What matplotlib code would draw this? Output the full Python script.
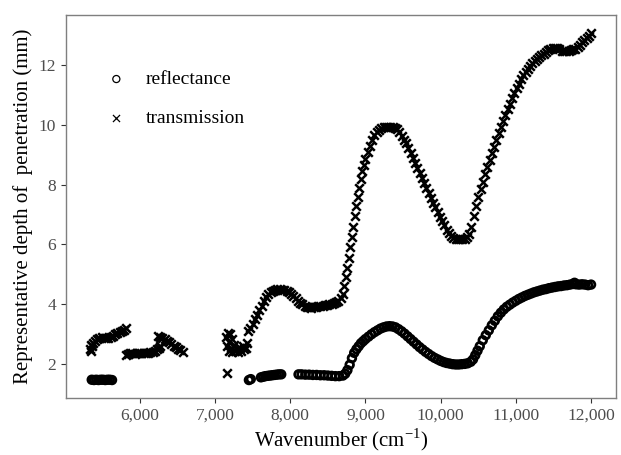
import matplotlib
matplotlib.use('Agg')
import matplotlib.pyplot as plt
from matplotlib.ticker import FuncFormatter

# reflectance (open circles)
refl_x = [5360, 5390, 5420, 5450, 5480, 5510, 5540, 5570, 5600, 5630,
          7450, 7475,
          7610, 7640, 7670, 7700, 7730, 7760, 7790, 7820, 7850, 7880,
          8110, 8150, 8200, 8250, 8300, 8350, 8400, 8450, 8500, 8550,
          8600, 8650, 8700, 8730, 8760, 8790, 8820, 8850, 8880, 8910,
          8940, 8970, 9000, 9040, 9080, 9120, 9160, 9200, 9240, 9280,
          9320, 9360, 9400, 9440, 9480, 9520, 9560, 9600, 9640, 9680,
          9720, 9760, 9800, 9840, 9880, 9920, 9960, 10000, 10040, 10080,
          10120, 10160, 10200, 10240, 10280, 10320, 10360, 10400, 10430, 10460,
          10490, 10520, 10560, 10600, 10640, 10680, 10720, 10760, 10800, 10840,
          10880, 10920, 10960, 11000, 11040, 11080, 11120, 11160, 11200, 11240,
          11280, 11320, 11360, 11400, 11440, 11480, 11520, 11560, 11600, 11640,
          11680, 11720, 11760, 11780, 11800, 11840, 11880, 11920, 11960, 12000]
refl_y = [1.48, 1.47, 1.48, 1.47, 1.48, 1.48, 1.47, 1.48, 1.48, 1.47,
          1.47, 1.50,
          1.56, 1.58, 1.60, 1.61, 1.62, 1.63, 1.64, 1.65, 1.66, 1.66,
          1.66, 1.66, 1.65, 1.65, 1.64, 1.64, 1.63, 1.63, 1.62, 1.61,
          1.60, 1.60, 1.62, 1.68, 1.80, 1.98, 2.20, 2.38, 2.50, 2.60,
          2.70, 2.77, 2.84, 2.92, 3.00, 3.07, 3.13, 3.19, 3.23, 3.26,
          3.27, 3.26, 3.23, 3.17, 3.10, 3.02, 2.93, 2.84, 2.75, 2.66,
          2.57, 2.49, 2.41, 2.34, 2.27, 2.21, 2.16, 2.11, 2.07, 2.04,
          2.02, 2.00, 1.99, 1.99, 2.00, 2.01, 2.03, 2.08, 2.16, 2.30,
          2.45, 2.60, 2.80, 2.97, 3.13, 3.30, 3.45, 3.60, 3.72, 3.83,
          3.92, 3.99, 4.06, 4.12, 4.18, 4.23, 4.28, 4.32, 4.36, 4.40,
          4.43, 4.46, 4.49, 4.51, 4.54, 4.56, 4.58, 4.60, 4.61, 4.63,
          4.64, 4.66, 4.68, 4.72, 4.67, 4.66, 4.67, 4.66, 4.64, 4.66]

# transmission (crosses)
trans_x = [5340, 5345, 5350, 5360, 5380, 5400, 5430, 5460, 5490, 5520,
           5550, 5580, 5610, 5640, 5670, 5700, 5730, 5760, 5790, 5810,
           5810, 5840, 5870, 5900, 5930, 5960, 5990, 6020, 6050, 6080,
           6110, 6140, 6170, 6200, 6230, 6250, 6270,
           6240, 6270, 6300, 6330, 6360, 6390, 6420, 6450, 6480, 6510,
           6540, 6570,
           7160,
           7150, 7160, 7170, 7180, 7190, 7200, 7210, 7220, 7230, 7250,
           7270, 7290, 7310, 7330, 7350, 7370, 7390, 7410, 7430,
           7440, 7470, 7500, 7530, 7560, 7590, 7620, 7650, 7680, 7710,
           7740, 7770, 7800, 7830, 7860, 7890, 7920, 7950, 7980, 8010,
           8040, 8070, 8100, 8130, 8160, 8190, 8220, 8250, 8280, 8310,
           8340, 8370, 8400, 8430, 8460, 8490, 8520, 8550, 8580, 8610,
           8640, 8670, 8700, 8720, 8740, 8760, 8780, 8800, 8820, 8840,
           8860, 8880, 8900, 8920, 8940, 8960, 8980, 9000, 9030, 9060,
           9090, 9120, 9150, 9180, 9210, 9240, 9270, 9300, 9330, 9360,
           9390, 9420, 9450, 9480, 9510, 9540, 9570, 9600, 9630, 9660,
           9690, 9720, 9750, 9780, 9810, 9840, 9870, 9900, 9930, 9960,
           9990, 10020, 10050, 10080, 10110, 10140, 10170, 10200, 10230, 10260,
           10290, 10320, 10350, 10380, 10410, 10440, 10470, 10500, 10530, 10560,
           10590, 10620, 10650, 10680, 10710, 10740, 10770, 10800, 10830, 10860,
           10890, 10920, 10950, 10980, 11010, 11040, 11070, 11100, 11130, 11160,
           11190, 11220, 11250, 11280, 11310, 11340, 11370, 11400, 11430, 11460,
           11490, 11520, 11550, 11580, 11610, 11640, 11670, 11700, 11730, 11760,
           11790, 11820, 11850, 11880, 11910, 11940, 11970, 12000]
trans_y = [2.50, 2.45, 2.65, 2.60, 2.70, 2.78, 2.85, 2.88, 2.90, 2.88,
           2.87, 2.88, 2.90, 2.95, 3.00, 3.05, 3.08, 3.10, 3.15, 3.20,
           2.30, 2.35, 2.38, 2.36, 2.35, 2.37, 2.38, 2.37, 2.36, 2.37,
           2.38, 2.40, 2.42, 2.45, 2.50, 2.55, 2.60,
           2.95, 2.92, 2.88, 2.83, 2.78, 2.73, 2.68, 2.62, 2.57, 2.52,
           2.47, 2.42,
           1.70,
           2.90, 2.60, 3.05, 2.45, 2.75, 3.00, 2.55, 2.85, 2.40, 2.65,
           2.45, 2.50, 2.40, 2.55, 2.45, 2.60, 2.50, 2.55, 2.70,
           3.10, 3.20, 3.35, 3.50, 3.65, 3.80, 3.95, 4.10, 4.25, 4.35,
           4.42, 4.45, 4.48, 4.50, 4.50, 4.49, 4.47, 4.44, 4.40, 4.35,
           4.28, 4.20, 4.12, 4.05, 4.00, 3.95, 3.92, 3.90, 3.89, 3.90,
           3.92, 3.93, 3.94, 3.95, 3.97, 3.99, 4.00, 4.02, 4.05, 4.08,
           4.12, 4.20, 4.35, 4.60, 4.90, 5.20, 5.55, 5.90, 6.25, 6.60,
           6.95, 7.30, 7.60, 7.90, 8.20, 8.45, 8.65, 8.85, 9.10, 9.30,
           9.50, 9.65, 9.75, 9.82, 9.88, 9.92, 9.93, 9.94, 9.93, 9.92,
           9.90, 9.85, 9.75, 9.62, 9.50, 9.38, 9.22, 9.06, 8.90, 8.73,
           8.56, 8.39, 8.22, 8.05, 7.88, 7.72, 7.56, 7.40, 7.24, 7.08,
           6.93, 6.78, 6.64, 6.50, 6.38, 6.28, 6.22, 6.18, 6.17, 6.17,
           6.18, 6.20, 6.25, 6.35, 6.60, 6.95, 7.28, 7.58, 7.85, 8.10,
           8.35, 8.60, 8.82, 9.05, 9.27, 9.50, 9.72, 9.93, 10.13, 10.33,
           10.52, 10.70, 10.88, 11.05, 11.22, 11.38, 11.52, 11.65, 11.77, 11.88,
           11.97, 12.05, 12.12, 12.19, 12.25, 12.32, 12.38, 12.44, 12.50, 12.54,
           12.57, 12.58, 12.56, 12.52, 12.48, 12.46, 12.45, 12.46, 12.50, 12.52,
           12.55, 12.60, 12.68, 12.76, 12.82, 12.90, 12.98, 13.08]

xticks = [6000, 7000, 8000, 9000, 10000, 11000, 12000]
yticks = [2, 4, 6, 8, 10, 12]


def main():
    plt.rcParams['font.family'] = 'Liberation Serif'
    plt.rcParams['mathtext.fontset'] = 'custom'
    plt.rcParams['mathtext.rm'] = 'Liberation Serif'

    fig = plt.figure(figsize=(6.21, 4.55), dpi=100)
    ax = fig.add_axes([0.1063, 0.1253, 0.8857, 0.8424])

    # thick strokes so the densely packed markers merge into a solid band
    ax.scatter(refl_x, refl_y, s=30, marker='o', facecolors='none',
               edgecolors='black', linewidths=2.0, label='reflectance')
    ax.scatter(trans_x, trans_y, s=38, marker='x', color='black',
               linewidths=1.8, label='transmission')

    ax.set_xlim(5018, 12332)
    ax.set_ylim(0.87, 13.68)
    ax.set_xticks(xticks)
    ax.set_yticks(yticks)
    ax.xaxis.set_major_formatter(FuncFormatter(lambda v, p: '{:,.0f}'.format(v)))

    for sp in ax.spines.values():
        sp.set_color('#7f7f7f')
        sp.set_linewidth(1.0)
    ax.tick_params(direction='out', length=3.5, width=0.8, color='#333333',
                   labelcolor='#4d4d4d', labelsize=12.5)

    ax.set_xlabel(r'Wavenumber (cm$^{-1}$)', fontsize=15, labelpad=2)
    ax.set_ylabel('Representative depth of  penetration (mm)', fontsize=15,
                  labelpad=4)

    leg = ax.legend(loc='upper left', bbox_to_anchor=(0.042, 0.9),
                    frameon=False, fontsize=14, handlelength=1.0,
                    handletextpad=1.0, labelspacing=1.1, scatterpoints=1)
    for h in leg.legend_handles:
        h.set_sizes([26])
        h.set_linewidths([0.9])

    plt.savefig('out.png', dpi=100)
    print("Plot has been saved as out.png")


if __name__ == "__main__":
    main()
